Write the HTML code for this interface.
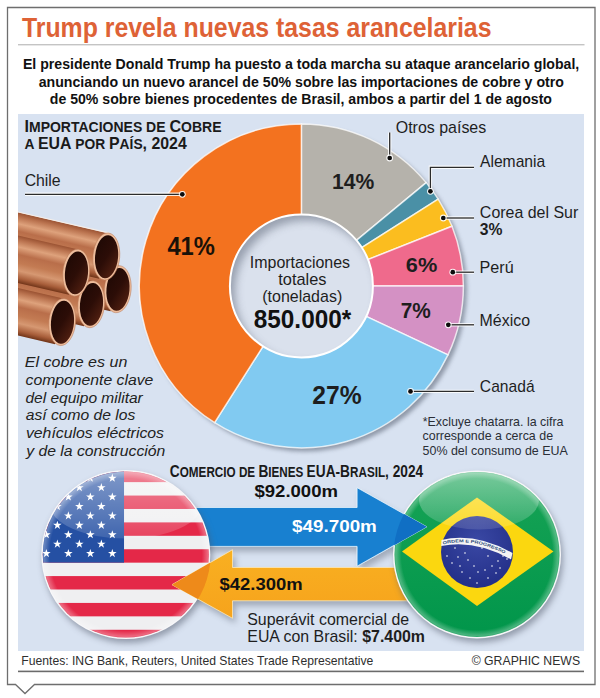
<!DOCTYPE html>
<html><head><meta charset="utf-8"><style>
html,body{margin:0;padding:0;background:#fff;}
svg{display:block;}
</style></head><body>
<svg width="600" height="698" viewBox="0 0 600 698" font-family="'Liberation Sans', Arial, sans-serif">
<defs>
<linearGradient id="copper" x1="0" y1="0" x2="0" y2="1">
<stop offset="0" stop-color="#9a5232"/><stop offset="0.1" stop-color="#bb7450"/><stop offset="0.24" stop-color="#dea27c"/>
<stop offset="0.4" stop-color="#b96e4a"/><stop offset="0.58" stop-color="#c37b53"/><stop offset="0.74" stop-color="#d69872"/><stop offset="0.9" stop-color="#a85e3a"/><stop offset="1" stop-color="#703418"/>
</linearGradient>
<linearGradient id="pipein" x1="0" y1="0" x2="1" y2="1">
<stop offset="0" stop-color="#1c0804"/><stop offset="0.5" stop-color="#2c0d07"/><stop offset="0.85" stop-color="#4e1e10"/><stop offset="1" stop-color="#7a3a22"/>
</linearGradient>
<path id="star" d="M0,-4.5 L1.04,-1.4 L4.3,-1.4 L1.68,0.54 L2.65,3.64 L0,1.77 L-2.65,3.64 L-1.68,0.54 L-4.3,-1.4 L-1.04,-1.4 Z" fill="#fff"/>
<clipPath id="usclip"><circle cx="125.8" cy="554.5" r="83.0"/></clipPath>
<clipPath id="usclip2"><circle cx="125.8" cy="554.5" r="84.8"/></clipPath>
<clipPath id="brclip"><circle cx="477" cy="554.4" r="82.5"/></clipPath>
<clipPath id="brclip2"><circle cx="477" cy="554.4" r="83.4"/></clipPath>
<clipPath id="rightclip"><rect x="300" y="470" width="200" height="110"/></clipPath>
<clipPath id="innerclip"><circle cx="301.4" cy="285.9" r="71.5"/></clipPath>
<filter id="blur4" x="-30%" y="-30%" width="160%" height="160%"><feGaussianBlur stdDeviation="4"/></filter>
<clipPath id="panelclip"><rect x="18" y="114" width="566" height="537"/></clipPath>
<filter id="shadow2" x="-20%" y="-20%" width="140%" height="140%"><feGaussianBlur stdDeviation="2.3"/></filter>
<filter id="shadow" x="-20%" y="-20%" width="140%" height="140%"><feGaussianBlur stdDeviation="3"/></filter>
<radialGradient id="inner" cx="0.56" cy="0.58" r="0.56">
<stop offset="0.78" stop-color="#d9e1ee"/><stop offset="0.93" stop-color="#c3cad6"/><stop offset="1" stop-color="#a8aeb9"/>
</radialGradient>
<linearGradient id="gloss" x1="0" y1="0" x2="0" y2="1">
<stop offset="0" stop-color="#fff" stop-opacity="0.42"/><stop offset="0.7" stop-color="#fff" stop-opacity="0.22"/><stop offset="1" stop-color="#fff" stop-opacity="0.12"/>
</linearGradient>
<radialGradient id="bevel" cx="0.5" cy="0.5" r="0.5">
<stop offset="0.9" stop-color="#fff" stop-opacity="0"/><stop offset="0.97" stop-color="#fff" stop-opacity="0.3"/><stop offset="1" stop-color="#fff" stop-opacity="0.1"/>
</radialGradient>
<radialGradient id="bevelg" cx="0.5" cy="0.5" r="0.5">
<stop offset="0.9" stop-color="#fff" stop-opacity="0"/><stop offset="0.965" stop-color="#fff" stop-opacity="0.28"/><stop offset="1" stop-color="#fff" stop-opacity="0.1"/>
</radialGradient>
<linearGradient id="bluegrad" x1="0" y1="0" x2="0" y2="1">
<stop offset="0" stop-color="#2a8fdb"/><stop offset="1" stop-color="#0f74c6"/>
</linearGradient>
<linearGradient id="orggrad" x1="0" y1="0" x2="0" y2="1">
<stop offset="0" stop-color="#f9b021"/><stop offset="1" stop-color="#f6a31c"/>
</linearGradient>
<linearGradient id="greengrad" x1="0" y1="0" x2="0" y2="1">
<stop offset="0" stop-color="#18a456"/><stop offset="1" stop-color="#00954a"/>
</linearGradient>
<radialGradient id="globe" cx="0.5" cy="0.35" r="0.65">
<stop offset="0" stop-color="#3a48a4"/><stop offset="1" stop-color="#232f88"/>
</radialGradient>
</defs>
<!-- frame -->
<path d="M7.5,7.5 H595 V684.5 H34.5 L25,693.5 L15.5,684.5 H7.5 Z" fill="#fff" stroke="#6e6e6e" stroke-width="1.3"/>
<text x="21.93" y="37.3" font-size="27" font-weight="700" fill="#de6236" textLength="469.53" lengthAdjust="spacingAndGlyphs">Trump revela nuevas tasas arancelarias</text>
<rect x="18" y="44" width="566.5" height="1.4" fill="#c4c4c4"/>
<text x="22.96" y="69.2" font-size="15.5" font-weight="700" fill="#111" textLength="556.35" lengthAdjust="spacingAndGlyphs">El presidente Donald Trump ha puesto a toda marcha su ataque arancelario global,</text>
<text x="38.70" y="86.8" font-size="15.5" font-weight="700" fill="#111" textLength="525.24" lengthAdjust="spacingAndGlyphs">anunciando un nuevo arancel de 50% sobre las importaciones de cobre y otro</text>
<text x="49.83" y="104.1" font-size="15.5" font-weight="700" fill="#111" textLength="502.17" lengthAdjust="spacingAndGlyphs">de 50% sobre bienes procedentes de Brasil, ambos a partir del 1 de agosto</text>
<!-- panel -->
<rect x="18" y="114" width="566" height="537" fill="#d8e2f1"/>
<g clip-path="url(#panelclip)">
<g transform="translate(117.7,289.2) rotate(13)">
<rect x="-170" y="-23.200000000000003" width="168" height="46.400000000000006" fill="url(#copper)"/>

</g>
<g transform="translate(117.7,289.2) rotate(5)">
<ellipse cx="0" cy="0" rx="13.4" ry="23.6" fill="#eebd9c" stroke="#b77654" stroke-width="0.5"/>
<ellipse cx="0.3" cy="0.2" rx="11.5" ry="21.5" fill="url(#pipein)"/>
</g>
<g transform="translate(106.3,256.5) rotate(13)">
<rect x="-170" y="-23.200000000000003" width="168" height="46.400000000000006" fill="url(#copper)"/>
<line x1="-170" y1="-23.5" x2="-2" y2="-23.5" stroke="#f6eee8" stroke-width="1.1"/>
</g>
<g transform="translate(106.3,256.5) rotate(5)">
<ellipse cx="0" cy="0" rx="13.4" ry="23.6" fill="#eebd9c" stroke="#b77654" stroke-width="0.5"/>
<ellipse cx="0.3" cy="0.2" rx="11.5" ry="21.5" fill="url(#pipein)"/>
</g>
<g transform="translate(91.2,304.2) rotate(13)">
<rect x="-170" y="-23.200000000000003" width="168" height="46.400000000000006" fill="url(#copper)"/>

</g>
<g transform="translate(91.2,304.2) rotate(5)">
<ellipse cx="0" cy="0" rx="13.4" ry="23.6" fill="#eebd9c" stroke="#b77654" stroke-width="0.5"/>
<ellipse cx="0.3" cy="0.2" rx="11.5" ry="21.5" fill="url(#pipein)"/>
</g>
<g transform="translate(76.2,272.7) rotate(13)">
<rect x="-170" y="-23.200000000000003" width="168" height="46.400000000000006" fill="url(#copper)"/>

</g>
<g transform="translate(76.2,272.7) rotate(5)">
<ellipse cx="0" cy="0" rx="13.4" ry="23.6" fill="#eebd9c" stroke="#b77654" stroke-width="0.5"/>
<ellipse cx="0.3" cy="0.2" rx="11.5" ry="21.5" fill="url(#pipein)"/>
</g>
<g transform="translate(62.2,322) rotate(13)">
<rect x="-170" y="-23.200000000000003" width="168" height="46.400000000000006" fill="url(#copper)"/>

</g>
<g transform="translate(62.2,322) rotate(5)">
<ellipse cx="0" cy="0" rx="13.4" ry="23.6" fill="#eebd9c" stroke="#b77654" stroke-width="0.5"/>
<ellipse cx="0.3" cy="0.2" rx="11.5" ry="21.5" fill="url(#pipein)"/>
</g>
</g>
<!-- donut shadow -->
<circle cx="304.9" cy="289.4" r="162" fill="#5f6878" opacity="0.6" filter="url(#shadow2)"/>
<path d="M301.40,285.90 L301.40,123.90 A162,162 0 0 1 426.22,182.64 Z" fill="#b5b2ab" stroke="#ffffff" stroke-opacity="0.75" stroke-width="1.5" stroke-linejoin="round"/>
<path d="M301.40,285.90 L426.22,182.64 A162,162 0 0 1 438.18,199.10 Z" fill="#4a90a6" stroke="#ffffff" stroke-opacity="0.75" stroke-width="1.5" stroke-linejoin="round"/>
<path d="M301.40,285.90 L438.18,199.10 A162,162 0 0 1 452.02,226.26 Z" fill="#fbbd1f" stroke="#ffffff" stroke-opacity="0.75" stroke-width="1.5" stroke-linejoin="round"/>
<path d="M301.40,285.90 L452.02,226.26 A162,162 0 0 1 463.40,285.90 Z" fill="#ef6a8c" stroke="#ffffff" stroke-opacity="0.75" stroke-width="1.5" stroke-linejoin="round"/>
<path d="M301.40,285.90 L463.40,285.90 A162,162 0 0 1 447.98,354.88 Z" fill="#d491c4" stroke="#ffffff" stroke-opacity="0.75" stroke-width="1.5" stroke-linejoin="round"/>
<path d="M301.40,285.90 L447.98,354.88 A162,162 0 0 1 214.60,422.68 Z" fill="#81caf1" stroke="#ffffff" stroke-opacity="0.75" stroke-width="1.5" stroke-linejoin="round"/>
<path d="M301.40,285.90 L214.60,422.68 A162,162 0 0 1 301.40,123.90 Z" fill="#f3721f" stroke="#ffffff" stroke-opacity="0.75" stroke-width="1.5" stroke-linejoin="round"/>
<circle cx="301.4" cy="285.9" r="71.5" fill="#dae1ed"/>
<g clip-path="url(#innerclip)"><circle cx="306.4" cy="291.9" r="78.5" fill="none" stroke="#7f8797" stroke-width="14" filter="url(#blur4)" opacity="0.75"/></g>
<circle cx="301.4" cy="285.9" r="71.5" fill="none" stroke="#fff" stroke-width="2"/>

<g fill="none" stroke="#ffffff" stroke-opacity="0.85" stroke-width="3.4">
<path d="M389.7,132.5 V158"/><path d="M474,167.3 H430.4 V191.3"/><path d="M474,218 H443.3"/>
<path d="M474,272.2 H452.8"/><path d="M474,324.8 H448.3"/><path d="M474,391.4 H410.5"/><path d="M25,194.3 H182.3"/>
</g><g fill="none" stroke="#2b2b2b" stroke-width="1.3">
<path d="M389.7,132.5 V158"/><path d="M474,167.3 H430.4 V191.3"/><path d="M474,218 H443.3"/>
<path d="M474,272.2 H452.8"/><path d="M474,324.8 H448.3"/><path d="M474,391.4 H410.5"/><path d="M25,194.3 H182.3"/>
</g>
<circle cx="389.7" cy="158" r="3.4" fill="#fff" fill-opacity="0.9"/><circle cx="389.7" cy="158" r="2.35" fill="#0c0c0c"/><circle cx="430.4" cy="191.3" r="3.4" fill="#fff" fill-opacity="0.9"/><circle cx="430.4" cy="191.3" r="2.35" fill="#0c0c0c"/><circle cx="443.3" cy="218" r="3.4" fill="#fff" fill-opacity="0.9"/><circle cx="443.3" cy="218" r="2.35" fill="#0c0c0c"/><circle cx="452.8" cy="272.2" r="3.4" fill="#fff" fill-opacity="0.9"/><circle cx="452.8" cy="272.2" r="2.35" fill="#0c0c0c"/><circle cx="448.3" cy="324.8" r="3.4" fill="#fff" fill-opacity="0.9"/><circle cx="448.3" cy="324.8" r="2.35" fill="#0c0c0c"/><circle cx="410.5" cy="391.4" r="3.4" fill="#fff" fill-opacity="0.9"/><circle cx="410.5" cy="391.4" r="2.35" fill="#0c0c0c"/><circle cx="182.3" cy="194.3" r="3.4" fill="#fff" fill-opacity="0.9"/><circle cx="182.3" cy="194.3" r="2.35" fill="#0c0c0c"/>
<text x="395.73" y="133.2" font-size="16.1" fill="#1e1e1e" textLength="90.52" lengthAdjust="spacingAndGlyphs">Otros países</text>
<text x="479.96" y="166.6" font-size="16.1" fill="#1e1e1e" textLength="65.34" lengthAdjust="spacingAndGlyphs">Alemania</text>
<text x="479.87" y="218.0" font-size="16.1" fill="#1e1e1e" textLength="98.41" lengthAdjust="spacingAndGlyphs">Corea del Sur</text>
<text x="479.76" y="235.0" font-size="15.6" font-weight="700" fill="#1e1e1e" textLength="22.68" lengthAdjust="spacingAndGlyphs">3%</text>
<text x="479.54" y="272.6" font-size="16.1" fill="#1e1e1e" textLength="34.12" lengthAdjust="spacingAndGlyphs">Perú</text>
<text x="479.56" y="325.7" font-size="16.1" fill="#1e1e1e" textLength="50.50" lengthAdjust="spacingAndGlyphs">México</text>
<text x="479.86" y="392.0" font-size="16.1" fill="#1e1e1e" textLength="54.73" lengthAdjust="spacingAndGlyphs">Canadá</text>
<text x="24.63" y="186.0" font-size="16.1" fill="#1e1e1e" textLength="36.06" lengthAdjust="spacingAndGlyphs">Chile</text>
<text x="167.42" y="255.4" font-size="26" font-weight="700" fill="#1a1108" textLength="47.54" lengthAdjust="spacingAndGlyphs">41%</text>
<text x="332.12" y="189.0" font-size="22" font-weight="700" fill="#1e1e1e" textLength="42.26" lengthAdjust="spacingAndGlyphs">14%</text>
<text x="405.85" y="272.2" font-size="21" font-weight="700" fill="#1e1e1e" textLength="31.42" lengthAdjust="spacingAndGlyphs">6%</text>
<text x="400.70" y="318.4" font-size="21.5" font-weight="700" fill="#1e1e1e" textLength="30.06" lengthAdjust="spacingAndGlyphs">7%</text>
<text x="312.32" y="404.0" font-size="26" font-weight="700" fill="#1e1e1e" textLength="49.31" lengthAdjust="spacingAndGlyphs">27%</text>
<text x="249.77" y="267.8" font-size="15.9" fill="#1e1e1e" textLength="100.31" lengthAdjust="spacingAndGlyphs">Importaciones</text>
<text x="278.34" y="285.1" font-size="15.9" fill="#1e1e1e" textLength="48.14" lengthAdjust="spacingAndGlyphs">totales</text>
<text x="262.24" y="302.4" font-size="15.9" fill="#1e1e1e" textLength="79.98" lengthAdjust="spacingAndGlyphs">(toneladas)</text>
<text x="253.73" y="328.4" font-size="26.0" font-weight="700" fill="#111" textLength="97.55" lengthAdjust="spacingAndGlyphs">850.000*</text>
<text x="422.64" y="425.5" font-size="13.5" fill="#2a2e36" textLength="140.91" lengthAdjust="spacingAndGlyphs">*Excluye chatarra. la cifra</text>
<text x="422.52" y="440.0" font-size="13.5" fill="#2a2e36" textLength="130.54" lengthAdjust="spacingAndGlyphs">corresponde a cerca de</text>
<text x="422.59" y="455.2" font-size="13.5" fill="#2a2e36" textLength="145.22" lengthAdjust="spacingAndGlyphs">50% del consumo de EUA</text>
<text x="24.87" y="367.0" font-size="15.5" font-style="italic" fill="#222" textLength="102.47" lengthAdjust="spacingAndGlyphs">El cobre es un</text>
<text x="25.54" y="385.0" font-size="15.5" font-style="italic" fill="#222" textLength="127.85" lengthAdjust="spacingAndGlyphs">componente clave</text>
<text x="25.46" y="402.5" font-size="15.5" font-style="italic" fill="#222" textLength="117.30" lengthAdjust="spacingAndGlyphs">del equipo militar</text>
<text x="25.73" y="420.2" font-size="15.5" font-style="italic" fill="#222" textLength="109.64" lengthAdjust="spacingAndGlyphs">así como de los</text>
<text x="25.91" y="437.9" font-size="15.5" font-style="italic" fill="#222" textLength="138.13" lengthAdjust="spacingAndGlyphs">vehículos eléctricos</text>
<text x="26.17" y="455.7" font-size="15.5" font-style="italic" fill="#222" textLength="139.12" lengthAdjust="spacingAndGlyphs">y de la construcción</text>
<text x="24.49" y="131.6" font-size="15.9" font-weight="700" fill="#1a1a1a" textLength="197.08" lengthAdjust="spacingAndGlyphs"><tspan font-size="15.9">I</tspan><tspan font-size="13.8">MPORTACIONES DE </tspan><tspan font-size="15.9">C</tspan><tspan font-size="13.8">OBRE</tspan></text><text x="24.60" y="149.2" font-size="15.9" font-weight="700" fill="#1a1a1a" textLength="162.19" lengthAdjust="spacingAndGlyphs"><tspan font-size="13.8">A </tspan><tspan font-size="15.9">EUA</tspan><tspan font-size="13.8"> POR </tspan><tspan font-size="15.9">P</tspan><tspan font-size="13.8">AÍS</tspan><tspan font-size="15.9">, 2024</tspan></text><text x="169.87" y="477.4" font-size="16.3" font-weight="700" fill="#1a1a1a" textLength="253.35" lengthAdjust="spacingAndGlyphs"><tspan font-size="16.3">C</tspan><tspan font-size="13.9">OMERCIO DE </tspan><tspan font-size="16.3">B</tspan><tspan font-size="13.9">IENES </tspan><tspan font-size="16.3">EUA-B</tspan><tspan font-size="13.9">RASIL</tspan><tspan font-size="16.3">, 2024</tspan></text>
<text x="254.45" y="496.7" font-size="16.5" font-weight="700" fill="#111" textLength="83.58" lengthAdjust="spacingAndGlyphs">$92.000m</text>
<!-- arrows shadows -->
<path d="M190,507.5 H357.1 V487.7 L426.8,526.8 L357.1,566.2 V546.4 H190 Z" transform="translate(3,5)" fill="#5d6575" opacity="0.45" filter="url(#shadow)"/>
<path d="M172,584.7 L232.5,549.7 V567.5 H420 V600.8 H232.5 V618.3 Z" transform="translate(3,5)" fill="#5d6575" opacity="0.45" filter="url(#shadow)"/>
<path d="M190,507.5 H357.1 V487.7 L426.8,526.8 L357.1,566.2 V546.4 H190 Z" fill="#1880d0" stroke="#e6f2fb" stroke-width="0.8"/>
<!-- US flag -->
<circle cx="127.8" cy="558.5" r="84.5" fill="#4f5768" opacity="0.5" filter="url(#shadow)"/>
<circle cx="125.8" cy="554.5" r="84.5" fill="#f7f7f9"/>
<g clip-path="url(#usclip)">
<rect x="-8.6" y="468.7" width="331.55" height="174.5" fill="#efeff1"/>
<rect x="-8.6" y="468.70" width="331.55" height="13.42" fill="#e42848"/>
<rect x="-8.6" y="495.55" width="331.55" height="13.42" fill="#e42848"/>
<rect x="-8.6" y="522.39" width="331.55" height="13.42" fill="#e42848"/>
<rect x="-8.6" y="549.24" width="331.55" height="13.42" fill="#e42848"/>
<rect x="-8.6" y="576.08" width="331.55" height="13.42" fill="#e42848"/>
<rect x="-8.6" y="602.93" width="331.55" height="13.42" fill="#e42848"/>
<rect x="-8.6" y="629.78" width="331.55" height="13.42" fill="#e42848"/>
<rect x="-8.6" y="468.7" width="132.62" height="93.96" fill="#2550a3"/>
<use href="#star" x="2.39" y="478.12"/>
<use href="#star" x="24.38" y="478.12"/>
<use href="#star" x="46.37" y="478.12"/>
<use href="#star" x="68.35" y="478.12"/>
<use href="#star" x="90.34" y="478.12"/>
<use href="#star" x="112.33" y="478.12"/>
<use href="#star" x="13.39" y="487.55"/>
<use href="#star" x="35.37" y="487.55"/>
<use href="#star" x="57.36" y="487.55"/>
<use href="#star" x="79.35" y="487.55"/>
<use href="#star" x="101.34" y="487.55"/>
<use href="#star" x="2.39" y="496.97"/>
<use href="#star" x="24.38" y="496.97"/>
<use href="#star" x="46.37" y="496.97"/>
<use href="#star" x="68.35" y="496.97"/>
<use href="#star" x="90.34" y="496.97"/>
<use href="#star" x="112.33" y="496.97"/>
<use href="#star" x="13.39" y="506.39"/>
<use href="#star" x="35.37" y="506.39"/>
<use href="#star" x="57.36" y="506.39"/>
<use href="#star" x="79.35" y="506.39"/>
<use href="#star" x="101.34" y="506.39"/>
<use href="#star" x="2.39" y="515.81"/>
<use href="#star" x="24.38" y="515.81"/>
<use href="#star" x="46.37" y="515.81"/>
<use href="#star" x="68.35" y="515.81"/>
<use href="#star" x="90.34" y="515.81"/>
<use href="#star" x="112.33" y="515.81"/>
<use href="#star" x="13.39" y="525.24"/>
<use href="#star" x="35.37" y="525.24"/>
<use href="#star" x="57.36" y="525.24"/>
<use href="#star" x="79.35" y="525.24"/>
<use href="#star" x="101.34" y="525.24"/>
<use href="#star" x="2.39" y="534.66"/>
<use href="#star" x="24.38" y="534.66"/>
<use href="#star" x="46.37" y="534.66"/>
<use href="#star" x="68.35" y="534.66"/>
<use href="#star" x="90.34" y="534.66"/>
<use href="#star" x="112.33" y="534.66"/>
<use href="#star" x="13.39" y="544.08"/>
<use href="#star" x="35.37" y="544.08"/>
<use href="#star" x="57.36" y="544.08"/>
<use href="#star" x="79.35" y="544.08"/>
<use href="#star" x="101.34" y="544.08"/>
<use href="#star" x="2.39" y="553.51"/>
<use href="#star" x="24.38" y="553.51"/>
<use href="#star" x="46.37" y="553.51"/>
<use href="#star" x="68.35" y="553.51"/>
<use href="#star" x="90.34" y="553.51"/>
<use href="#star" x="112.33" y="553.51"/>
<circle cx="125.8" cy="554.5" r="84.5" fill="url(#bevel)"/>
<ellipse cx="125.8" cy="504.5" rx="76" ry="34" fill="url(#gloss)"/>
</g>
<path d="M172,584.7 L232.5,549.7 V567.5 H420 V600.8 H232.5 V618.3 Z" fill="url(#orggrad)" stroke="#fde9b8" stroke-width="0.8"/>
<g clip-path="url(#usclip2)"><path d="M172,584.7 L232.5,549.7 V567.5 H420 V600.8 H232.5 V618.3 Z" fill="#ee8a1a"/></g>
<!-- Brazil flag -->
<circle cx="479" cy="558.4" r="84" fill="#4f5768" opacity="0.5" filter="url(#shadow)"/>
<circle cx="477" cy="554.4" r="84" fill="#f7f7f9"/>
<g clip-path="url(#brclip)">
<rect x="390" y="468" width="175" height="175" fill="url(#greengrad)"/>
<path d="M402,551.4 L477,497.4 L553.5,551.4 L477,606 Z" fill="#fbd70f"/>
<circle cx="477" cy="552" r="36" fill="url(#globe)"/>
<path d="M441.5,540 Q475,532 512.5,553 L511,559.5 Q475,539 441.2,546 Z" fill="#f4f4f4"/>
<path id="bandpath" d="M443,544.6 Q475,536.5 511,557.2" fill="none"/>
<text font-size="4.2" font-weight="700" fill="#2a4a7a"><textPath href="#bandpath" textLength="64" lengthAdjust="spacingAndGlyphs">ORDEM E PROGRESSO</textPath></text>
<circle cx="455" cy="548" r="0.8" fill="#fff"/><circle cx="447" cy="556" r="0.8" fill="#fff"/><circle cx="452" cy="563" r="0.8" fill="#fff"/><circle cx="460" cy="566" r="0.8" fill="#fff"/><circle cx="468" cy="560" r="0.8" fill="#fff"/><circle cx="474" cy="566" r="0.8" fill="#fff"/><circle cx="478" cy="572" r="0.8" fill="#fff"/><circle cx="485" cy="570" r="0.8" fill="#fff"/><circle cx="492" cy="566" r="0.8" fill="#fff"/><circle cx="498" cy="561" r="0.8" fill="#fff"/><circle cx="503" cy="556" r="0.8" fill="#fff"/><circle cx="507" cy="559" r="0.8" fill="#fff"/><circle cx="496" cy="573" r="0.8" fill="#fff"/><circle cx="488" cy="578" r="0.8" fill="#fff"/><circle cx="470" cy="578" r="0.8" fill="#fff"/><circle cx="462" cy="572" r="0.8" fill="#fff"/><circle cx="482" cy="548" r="0.8" fill="#fff"/><circle cx="488" cy="556" r="0.8" fill="#fff"/><circle cx="477" cy="583" r="0.8" fill="#fff"/><circle cx="500" cy="568" r="0.8" fill="#fff"/><circle cx="458" cy="557" r="0.8" fill="#fff"/><circle cx="465" cy="553" r="0.8" fill="#fff"/>
<circle cx="477" cy="554.4" r="84" fill="url(#bevelg)"/>
<ellipse cx="479" cy="500.4" rx="60" ry="29" fill="url(#gloss)"/>
</g>
<g clip-path="url(#rightclip)"><path d="M190,507.5 H357.1 V487.7 L426.8,526.8 L357.1,566.2 V546.4 H190 Z" fill="#1880d0" stroke="#e6f2fb" stroke-width="0.8"/></g>
<g clip-path="url(#brclip2)"><path d="M190,507.5 H357.1 V487.7 L426.8,526.8 L357.1,566.2 V546.4 H190 Z" fill="#106fc4"/></g>
<text x="292.09" y="532.4" font-size="16.5" font-weight="700" fill="#fff" textLength="84.76" lengthAdjust="spacingAndGlyphs">$49.700m</text>
<text x="219.58" y="589.8" font-size="16.5" font-weight="700" fill="#111" textLength="83.10" lengthAdjust="spacingAndGlyphs">$42.300m</text>
<text x="247.24" y="625.4" font-size="16.1" fill="#1e1e1e" textLength="161.99" lengthAdjust="spacingAndGlyphs">Superávit comercial de</text>
<text x="247.27" y="642.0" font-size="16.1" fill="#1e1e1e" textLength="177.74" lengthAdjust="spacingAndGlyphs">EUA con Brasil: <tspan font-weight="700">$7.400m</tspan></text>
<!-- footer -->
<text x="21.31" y="665.3" font-size="13.5" fill="#2e2e2e" textLength="352.08" lengthAdjust="spacingAndGlyphs">Fuentes: ING Bank, Reuters, United States Trade Representative</text>
<text x="471.67" y="665.3" font-size="13.5" fill="#2e2e2e" textLength="108.40" lengthAdjust="spacingAndGlyphs">© GRAPHIC NEWS</text>
<rect x="18" y="670.6" width="566" height="1.6" fill="#6b6b6b"/>
</svg>
</body></html>
